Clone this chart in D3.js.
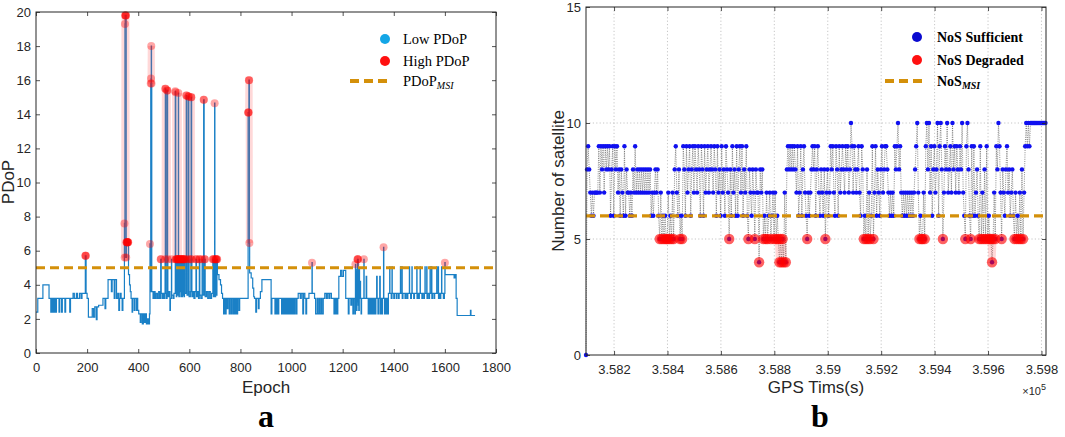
<!DOCTYPE html>
<html><head><meta charset="utf-8">
<script src="https://cdn.jsdelivr.net/npm/d3@7"></script>
<style>body{margin:0;background:#fff}svg{display:block}</style>
</head><body>
<svg id="c" width="1065" height="437"></svg>
<script>
// ---------------- DATA ----------------
// Panel a: PDoP per epoch, as run-length pairs [firstEpoch, PDoP]
const pdopRuns = [[0,2.4],[7,3.2],[27,4.0],[51,3.2],[58,2.4],[60,3.2],[63,2.4],[65,3.2],[68,2.4],[70,3.2],[73,2.4],[75,3.2],[78,2.4],[80,3.2],[90,2.4],[93,3.2],[100,2.4],[103,3.2],[113,2.4],[116,3.2],[132,2.4],[135,3.2],[145,3.5],[150,3.2],[158,3.5],[162,3.2],[170,3.5],[176,3.2],[180,3.5],[193,5.7],[196,3.5],[200,3.2],[205,2.1],[220,2.6],[225,2.1],[230,2.7],[236,1.95],[239,2.7],[245,2.8],[262,3.2],[270,2.6],[273,3.2],[282,4.3],[295,3.6],[298,4.3],[306,3.2],[309,4.3],[315,3.2],[320,3.5],[324,2.5],[327,3.2],[330,3.5],[333,3.2],[337,2.5],[340,3.2],
[346,7.6],[347,5.6],[348,19.3],[349,19.8],[353,5.6],[354,6.5],[362,4.6],[366,4.0],[369,3.6],[372,3.2],[376,2.4],[378,3.2],[384,2.5],[386,3.2],[392,2.5],[394,3.2],[398,2.5],[402,2.3],[408,1.8],[411,2.3],[416,1.7],[420,2.3],[424,1.8],[428,2.3],[432,1.7],[436,2.0],[440,1.7],[444,2.3],
[446,6.4],[447,3.6],[449,15.8],[450,16.1],[451,18.0],[452,15.8],[453,3.6],[458,3.2],[462,3.6],[466,3.2],[470,3.5],[475,3.2],[480,3.6],[484,3.2],[488,5.5],[490,3.5],[494,3.2],[498,3.5],[502,3.2],[505,5.5],[506,15.5],[508,3.5],[511,3.2],[513,15.4],[515,5.5],[516,3.3],[520,3.6],[524,2.5],[526,3.2],[530,5.5],[531,3.4],[536,3.2],[540,3.5],
[545,15.35],[546,15.3],[547,5.5],[549,3.3],[551,5.5],[553,3.4],[555,5.5],[557,15.25],[558,5.5],[559,3.3],[561,5.5],[563,3.6],[565,5.5],[567,3.3],[569,5.5],[571,3.3],[573,5.5],[575,3.4],[577,5.5],[579,3.3],[581,5.5],[583,3.5],[588,15.1],[590,5.5],[591,3.4],[596,15.05],[598,5.5],[599,3.3],[604,3.6],[606,5.5],[607,15.0],[609,5.5],[610,3.3],[614,3.6],[618,3.2],[622,3.6],[626,5.5],[628,3.3],[632,3.6],[636,3.2],[639,5.5],[641,3.4],[645,3.2],[650,5.5],[651,3.4],[656,14.85],[658,3.4],[660,5.5],[662,3.3],[667,3.6],[672,3.2],[677,3.6],[682,3.2],[687,3.5],[692,5.5],[694,3.3],[697,5.5],[698,3.3],[699,14.65],[700,3.3],[703,5.5],[706,3.4],[708,5.5],
[710,4.6],[716,4.3],[722,4.0],[726,3.5],[730,3.2],[734,2.3],[737,3.2],[741,2.3],[744,3.2],[748,2.6],[751,3.2],[756,2.3],[759,3.2],[764,2.3],[767,3.2],[772,2.3],[775,3.2],[779,2.3],[782,3.2],[786,2.3],[789,3.2],[794,2.5],[797,3.2],
[830,14.1],[833,16.0],[835,6.45],[836,4.7],[842,4.4],[848,3.8],[852,3.3],[855,3.2],[860,2.4],[863,3.2],[870,2.6],[873,3.2],[878,3.6],[884,4.3],[920,2.3],[923,3.2],[935,2.3],[938,3.2],[941,2.3],[944,3.2],[947,2.3],[950,3.2],[961,2.3],[964,3.2],[968,2.3],[971,3.2],[975,2.3],[978,3.2],[982,2.3],[985,3.2],[989,2.3],[992,3.2],[996,2.3],[999,3.2],[1003,2.3],[1006,3.2],[1010,2.3],[1013,3.2],[1018,2.3],[1021,3.2],[1026,3.5],[1034,3.2],[1038,3.5],[1044,2.3],[1047,3.5],[1052,3.2],[1056,2.3],[1059,3.2],[1068,3.5],[1080,5.3],[1081,3.5],[1090,3.2],
[1094,2.3],[1100,3.2],[1103,2.3],[1108,3.2],[1111,2.3],[1116,3.2],[1119,2.3],[1124,3.2],[1130,3.5],[1136,3.2],[1140,3.5],[1146,3.2],[1150,3.5],[1156,3.2],[1166,2.3],[1169,3.2],[1172,2.3],[1175,3.2],[1178,2.3],[1181,3.2],[1185,4.5],[1192,4.85],[1197,4.5],[1203,4.85],[1212,3.2],[1222,2.3],[1225,3.2],[1232,2.8],[1235,3.2],[1240,2.3],[1243,3.2],
[1248,2.3],[1250,5.2],[1251,3.2],[1253,4.8],[1254,2.5],[1256,4.9],[1257,3.0],[1258,5.5],[1261,2.8],[1262,4.8],[1263,2.5],[1265,4.9],[1266,3.2],[1268,4.2],[1270,3.2],[1272,2.3],[1274,3.2],[1283,5.5],[1284,3.2],[1292,4.5],[1294,3.2],[1300,2.3],[1303,3.2],[1306,2.3],[1309,3.2],[1313,2.3],[1316,3.2],[1320,2.3],[1323,3.2],[1327,2.3],[1330,3.2],[1333,4.5],[1335,3.2],[1338,2.3],[1341,3.2],[1345,4.5],[1347,2.3],[1350,3.2],[1353,2.3],[1356,3.2],[1360,6.2],[1361,3.2],[1364,2.3],[1367,3.2],[1370,2.3],[1373,3.2],[1376,2.3],[1379,3.5],
[1384,5.05],[1385,3.5],[1390,3.2],[1393,5.05],[1394,3.5],[1400,3.2],[1403,3.5],[1410,3.2],[1412,3.5],[1418,3.2],[1421,3.5],[1426,5.05],[1427,3.5],[1432,5.05],[1433,3.2],[1436,3.5],[1444,3.2],[1447,3.5],[1452,3.2],[1455,3.5],[1461,5.05],[1462,3.5],[1466,3.2],[1469,3.5],[1471,5.05],[1472,3.5],[1478,3.2],[1481,3.5],[1490,5.05],[1491,3.2],[1494,3.5],[1498,3.2],[1500,3.5],[1503,5.05],[1504,3.5],[1510,3.2],[1513,3.5],[1518,3.2],[1520,3.5],[1522,5.05],[1523,3.5],[1529,5.05],[1530,3.2],[1533,3.5],[1538,3.2],[1540,3.5],[1542,5.05],[1543,3.5],[1548,5.05],[1549,3.2],[1552,3.5],[1558,3.2],[1560,3.5],[1568,5.05],[1569,3.5],[1574,5.05],[1575,3.2],[1578,3.5],[1582,3.2],[1584,3.5],[1587,5.05],[1588,3.5],[1594,3.2],[1598,3.5],
[1600,5.3],[1601,4.6],[1636,4.4],[1640,4.6],[1644,3.2],[1648,2.2],[1700,2.5],[1702,2.2]];
const pdopLastEpoch = 1718;
const pdopMSI = 5;          // dashed threshold line
const pdopHighLimit = 5.1;  // values above are "High PDoP"
const epochTicks = [0,200,400,600,800,1000,1200,1400,1600,1800];
const pdopTicks = [0,2,4,6,8,10,12,14,16,18,20];

// Panel b: number of satellites, one reading every 4 s from GPS second 358095
const nosStartTime = 358095;
const nosStep = 4;
const nosValues = [0,
8,9,8,7,6,7,6,7,7,7, 7,9,7,9,8,9,7,9,8,9, 8,9,6,8,9,6,9,8,9,7, 8,6,8,7,6,9,6,8,7,7,
6,7,6,8,7,9,7,8,7,8, 7,8,7,8,7,8,7,8,7,8, 6,7,6,7,8,7,8,6,5,7, 5,6,5,6,5,5,7,5,6,5,
7,5,8,9,7,6,8,5,6,5, 9,8,6,9,7,8,9,6,8,9, 7,9,8,7,9,8,6,9,8,6, 9,7,8,9,7,8,9,8,7,9,
8,6,9,7,8,6,9,7,8,6, 9,8,7,5,8,6,9,7,8,6, 9,6,8,9,7,9,6,8,7,9, 6,5,8,7,6,8,7,5,8,7,
7,4,8,7,8,5,6,5,7,5, 6,7,5,6,7,5,7,5,6,5, 4,5,4,5,4,7,4,8,9,8, 9,8,9,8,9,8,7,9,6,7,
9,6,8,9,7,6,5,7,6,7, 8,9,8,9,6,8,9,7,6,8, 7,6,8,5,7,8,6,7,9,8, 9,7,6,9,8,6,9,7,8,9,
8,7,9,8,9,7,8,10,9,7, 9,8,7,8,9,7,6,9,8,5, 6,5,8,5,7,5,6,9,5,7, 9,6,8,7,6,8,9,7,8,9,
9,8,7,6,7,6,7,6,9,8, 9,10,8,9,7,6,7,6,7,6, 7,6,7,6,7,6,7,8,9,10, 7,5,6,5,5,7,5,9,10,8,
10,7,9,6,8,9,7,8,10,6, 9,10,8,5,7,9,8,10,7,8, 9,7,10,8,9,7,9,8,7,9, 8,10,7,6,5,9,10,8,6,5,
9,6,9,6,7,8,6,5,9,5, 7,5,8,5,9,5,6,5,5,4, 5,7,5,9,8,10,9,7,5,8, 7,6,8,9,7,8,6,7,8,6,
5,7,5,6,5,7,5,8,5,7, 9,10,9,10,9,10,10,10,10,10, 10,10,10,10,10,10,10,10,10,10];
const nosMSI = 6;
const gpsTicks = [358200,358400,358600,358800,359000,359200,359400,359600,359800];
const nosTicks = [0,5,10,15];

// ---------------- DRAWING ----------------
const svg = d3.select("#c");
const axisCol = "#262626";
const lineBlue = "#1a80c6";
const orange = "#d4900a";
const sans = "'Liberation Sans', Arial, sans-serif";
const serif = "'Liberation Serif', 'Times New Roman', serif";

function frame(x, y, xt, yt, fmtX, fmtY, padX, padY) {
  const [x0, x1] = x.range(), [y0, y1] = y.range();
  const g = svg.append("g");
  const styleAxis = sel => {
    sel.select(".domain").remove();
    sel.selectAll("line").attr("stroke", axisCol).attr("stroke-width", 0.8);
    sel.selectAll("text").attr("fill", axisCol).style("font-family", sans).style("font-size", "13px");
  };
  g.append("g").attr("transform", `translate(0,${y0})`)
    .call(d3.axisBottom(x).tickValues(xt).tickSize(-4).tickPadding(padX).tickFormat(fmtX)).call(styleAxis);
  g.append("g").attr("transform", `translate(0,${y1})`)
    .call(d3.axisTop(x).tickValues(xt).tickSize(-4).tickFormat("")).call(styleAxis);
  g.append("g").attr("transform", `translate(${x0},0)`)
    .call(d3.axisLeft(y).tickValues(yt).tickSize(-4).tickPadding(padY).tickFormat(fmtY)).call(styleAxis);
  g.append("g").attr("transform", `translate(${x1},0)`)
    .call(d3.axisRight(y).tickValues(yt).tickSize(-4).tickFormat("")).call(styleAxis);
  g.append("rect").attr("x", x0).attr("y", y1).attr("width", x1 - x0).attr("height", y0 - y1)
    .attr("fill", "none").attr("stroke", axisCol).attr("stroke-width", 1);
}

// ===== Panel a =====
const xL = d3.scaleLinear().domain([0, 1800]).range([36, 496]);
const yL = d3.scaleLinear().domain([0, 20]).range([353, 12]);

const pdop = [];
pdopRuns.forEach((r, k) => {
  const end = k + 1 < pdopRuns.length ? pdopRuns[k + 1][0] : pdopLastEpoch + 1;
  for (let e = r[0]; e < end; e++) pdop.push({ e, v: r[1] });
});

const gA = svg.append("g");
gA.append("path").datum(pdop)
  .attr("d", d3.line().x(d => xL(d.e)).y(d => yL(d.v)).curve(d3.curveStepAfter))
  .attr("fill", "none").attr("stroke", lineBlue).attr("stroke-width", 1.2);
gA.append("path").datum(pdop)
  .attr("d", d3.line().defined(d => d.v > pdopHighLimit).x(d => xL(d.e)).y(d => yL(d.v)))
  .attr("fill", "none").attr("stroke", "rgba(255,60,60,0.2)").attr("stroke-width", 7);
gA.selectAll("circle.hi").data(pdop.filter(d => d.v > pdopHighLimit)).join("circle")
  .attr("cx", d => xL(d.e)).attr("cy", d => yL(d.v)).attr("r", 4)
  .attr("fill", "rgba(255,0,0,0.35)");
gA.append("line").attr("x1", xL(0)).attr("x2", xL(1800)).attr("y1", yL(pdopMSI)).attr("y2", yL(pdopMSI))
  .attr("stroke", orange).attr("stroke-width", 3.2).attr("stroke-dasharray", "9,5");
frame(xL, yL, epochTicks, pdopTicks, d3.format("d"), d3.format("d"), 10, 5);

// legend a
const legA = svg.append("g").style("font-family", serif).style("font-size", "14.5px");
legA.append("circle").attr("cx", 385).attr("cy", 39).attr("r", 5).attr("fill", "#14a6e6");
legA.append("circle").attr("cx", 385).attr("cy", 61).attr("r", 5).attr("fill", "#ff1010");
legA.append("line").attr("x1", 350).attr("x2", 388).attr("y1", 81).attr("y2", 81)
  .attr("stroke", orange).attr("stroke-width", 4).attr("stroke-dasharray", "9,5");
legA.append("text").attr("x", 403).attr("y", 44).text("Low PDoP");
legA.append("text").attr("x", 403).attr("y", 66).text("High PDoP");
const tA = legA.append("text").attr("x", 403).attr("y", 86);
tA.append("tspan").text("PDoP");
tA.append("tspan").attr("font-style", "italic").attr("font-size", "10px").attr("dy", 3).text("MSI");

svg.append("text").attr("x", 266).attr("y", 393).attr("text-anchor", "middle")
  .style("font-family", sans).style("font-size", "17px").attr("fill", axisCol).text("Epoch");
svg.append("text").attr("transform", "translate(14,182) rotate(-90)").attr("text-anchor", "middle")
  .style("font-family", sans).style("font-size", "17px").attr("fill", axisCol).text("PDoP");
svg.append("text").attr("x", 266).attr("y", 427).attr("text-anchor", "middle")
  .style("font-family", serif).style("font-weight", "bold").style("font-size", "32px").text("a");

// ===== Panel b =====
const xR = d3.scaleLinear().domain([358095, 359817]).range([586, 1046]);
const yR = d3.scaleLinear().domain([0, 15]).range([355, 7]);
const nos = nosValues.map((v, i) => ({ t: nosStartTime + i * nosStep, v }));
const degraded = d => d.v > 0 && d.v < nosMSI;

const gB = svg.append("g");
gB.selectAll("line.gx").data(gpsTicks).join("line")
  .attr("x1", d => xR(d)).attr("x2", d => xR(d)).attr("y1", yR(0)).attr("y2", yR(15))
  .attr("stroke", "#b8b8b8").attr("stroke-width", 0.8).attr("stroke-dasharray", "1.2,2.2");
gB.selectAll("line.gy").data(nosTicks.slice(1, -1)).join("line")
  .attr("y1", d => yR(d)).attr("y2", d => yR(d)).attr("x1", xR.range()[0]).attr("x2", xR.range()[1])
  .attr("stroke", "#b8b8b8").attr("stroke-width", 0.8).attr("stroke-dasharray", "1.2,2.2");
gB.append("path").datum(nos)
  .attr("d", d3.line().x(d => xR(d.t)).y(d => yR(d.v)))
  .attr("fill", "none").attr("stroke", "#5a5a5a").attr("stroke-width", 0.7).attr("stroke-dasharray", "1,1.2");
gB.append("path").datum(nos)
  .attr("d", d3.line().defined(degraded).x(d => xR(d.t)).y(d => yR(d.v)))
  .attr("fill", "none").attr("stroke", "rgba(255,60,60,0.2)").attr("stroke-width", 7);
gB.selectAll("circle.ok").data(nos).join("circle")
  .attr("cx", d => xR(d.t)).attr("cy", d => yR(d.v)).attr("r", 2.2).attr("fill", "#1010f0");
gB.selectAll("circle.bad").data(nos.filter(degraded)).join("circle").attr("class", "bad")
  .attr("cx", d => xR(d.t)).attr("cy", d => yR(d.v)).attr("r", 5.2).attr("fill", "rgba(255,0,0,0.62)");
gB.append("line").attr("x1", xR.range()[0]).attr("x2", xR.range()[1]).attr("y1", yR(nosMSI)).attr("y2", yR(nosMSI))
  .attr("stroke", orange).attr("stroke-width", 3.2).attr("stroke-dasharray", "9,5");
frame(xR, yR, gpsTicks, nosTicks, d => (d / 1e5).toFixed(3).replace(/0+$/, ""), d3.format("d"), 10, 5);

const legB = svg.append("g").style("font-family", serif).style("font-size", "14px").style("font-weight", "bold");
legB.append("circle").attr("cx", 917).attr("cy", 37).attr("r", 5).attr("fill", "#0a0ad0");
legB.append("circle").attr("cx", 917).attr("cy", 60).attr("r", 5).attr("fill", "#ff1010");
legB.append("line").attr("x1", 885).attr("x2", 925).attr("y1", 81).attr("y2", 81)
  .attr("stroke", orange).attr("stroke-width", 4).attr("stroke-dasharray", "9,5");
legB.append("text").attr("x", 937).attr("y", 42).text("NoS Sufficient");
legB.append("text").attr("x", 937).attr("y", 65).text("NoS Degraded");
const tB = legB.append("text").attr("x", 937).attr("y", 86);
tB.append("tspan").text("NoS");
tB.append("tspan").attr("font-style", "italic").attr("font-size", "10px").attr("dy", 3).text("MSI");

svg.append("text").attr("x", 816).attr("y", 393).attr("text-anchor", "middle")
  .style("font-family", sans).style("font-size", "17px").attr("fill", axisCol).text("GPS Tims(s)");
const e5 = svg.append("text").attr("x", 1046).attr("y", 395).attr("text-anchor", "end")
  .style("font-family", sans).style("font-size", "11px").attr("fill", axisCol);
e5.append("tspan").text("×10");
e5.append("tspan").attr("dy", -5).attr("font-size", "9px").text("5");
svg.append("text").attr("transform", "translate(564,181) rotate(-90)").attr("text-anchor", "middle")
  .style("font-family", sans).style("font-size", "17px").attr("fill", axisCol).text("Number of satellite");
svg.append("text").attr("x", 820).attr("y", 427).attr("text-anchor", "middle")
  .style("font-family", serif).style("font-weight", "bold").style("font-size", "32px").text("b");
</script>
</body></html>
